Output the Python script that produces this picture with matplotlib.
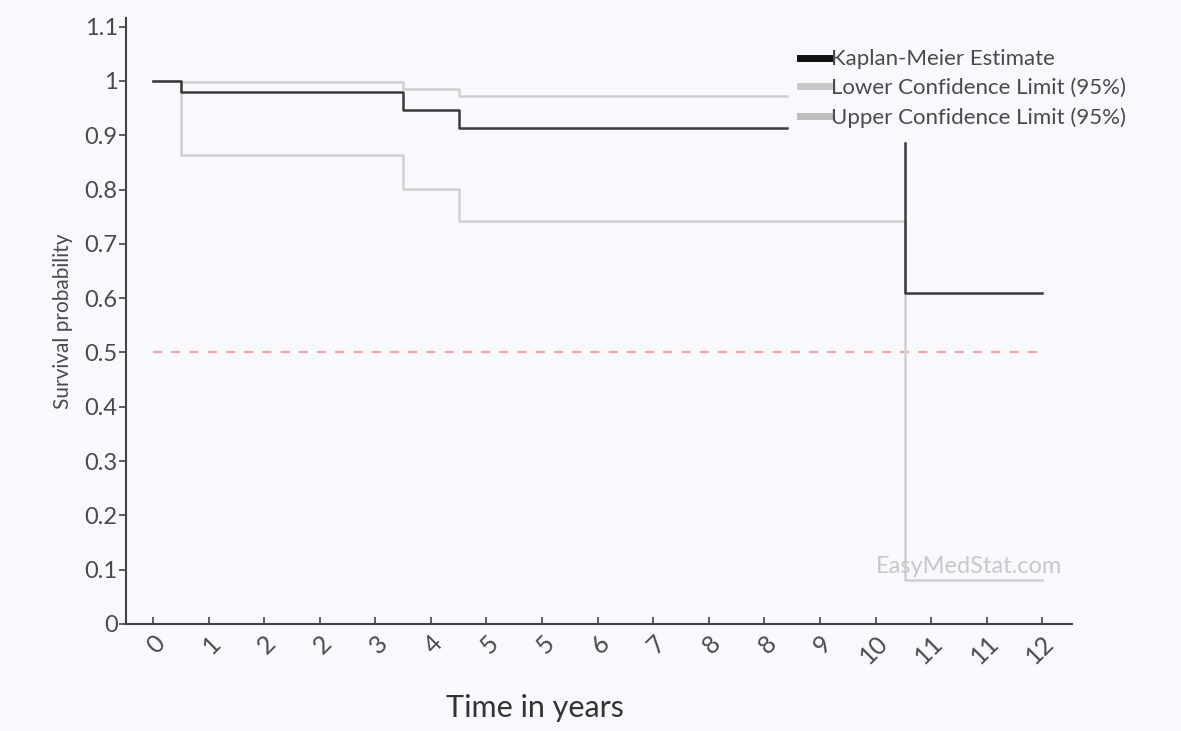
import numpy as np
import matplotlib
matplotlib.use("Agg")
import matplotlib.pyplot as plt
from matplotlib.lines import Line2D

nan = np.nan
# Kaplan-Meier step data (time in years, survival)
km_time = [0, 0.38, 3.37, 4.13, 8.56, 10.15, 10.15, 12]
km_surv = [1.0, 0.98, 0.947, 0.913, nan, 0.886, 0.609, 0.609]
lower_time = [0, 0.38, 3.37, 4.13, 10.15, 12]
lower_surv = [1.0, 0.864, 0.801, 0.743, 0.081, 0.081]
upper_time = [0, 0.38, 3.37, 4.13, 8.56]
upper_surv = [1.0, 0.998, 0.986, 0.972, 0.972]

xtick_vals = [0, 0.75, 1.5, 2.25, 3, 3.75, 4.5, 5.25, 6, 6.75, 7.5, 8.25, 9, 9.75, 10.5, 11.25, 12]
xtick_labels = ["0", "1", "2", "2", "3", "4", "5", "5", "6", "7", "8", "8", "9", "10", "11", "11", "12"]
ytick_vals = [0, 0.1, 0.2, 0.3, 0.4, 0.5, 0.6, 0.7, 0.8, 0.9, 1.0, 1.1]
ytick_labels = ["0", "0.1", "0.2", "0.3", "0.4", "0.5", "0.6", "0.7", "0.8", "0.9", "1", "1.1"]
median_line = 0.5

plt.rcParams['font.family'] = ['Lato', 'DejaVu Sans']
bg = '#f8f9fd'
fig = plt.figure(figsize=(11.81, 7.31), dpi=100, facecolor=bg)
ax = fig.add_axes([0.1067, 0.1464, 0.8010, 0.829])
ax.set_facecolor(bg)

txtc = '#4a4a4a'
ax.plot([xtick_vals[0], xtick_vals[-1]], [median_line, median_line], color='#f4a4a4',
        lw=1.6, ls=(0, (4.1, 4.1)), zorder=1)
ax.step(lower_time, lower_surv, where='post', color='#cfcfcf', lw=1.8, zorder=2)
ax.step(upper_time, upper_surv, where='post', color='#cfcfcf', lw=1.8, zorder=2)
ax.step(km_time, km_surv, where='post', color='#3a3a3a', lw=1.8, zorder=3)

ax.set_xlim(-0.364, 12.4)
ax.set_ylim(0, 1.116)
ax.set_xticks(xtick_vals)
ax.set_xticklabels(xtick_labels, rotation=45, ha='right', va='top', rotation_mode='anchor')
ax.set_yticks(ytick_vals)
ax.set_yticklabels(ytick_labels)
ax.tick_params(axis='x', direction='in', length=5, width=1.2, color='#444', labelsize=18,
               labelcolor=txtc, pad=5)
ax.tick_params(axis='y', direction='out', length=5, width=1.2, color='#444', labelsize=17,
               labelcolor=txtc, pad=1)
for s in ['top', 'right']:
    ax.spines[s].set_visible(False)
for s in ['left', 'bottom']:
    ax.spines[s].set_color('#444')
    ax.spines[s].set_linewidth(1.5)

ax.set_ylabel('Survival probability', fontsize=15, color=txtc, labelpad=8)
fig.text(0.453, 0.032, 'Time in years', fontsize=22, color='#333', ha='center', va='center')

ax.text(12.27, 0.105, 'EasyMedStat.com', fontsize=17, color='#c8c8c8', ha='right', va='center')

handles = [Line2D([], [], color='#111111', lw=5),
           Line2D([], [], color='#c8c8c8', lw=5),
           Line2D([], [], color='#bdbdbd', lw=5)]
labels = ['Kaplan-Meier Estimate', 'Lower Confidence Limit (95%)', 'Upper Confidence Limit (95%)']
leg = ax.legend(handles, labels, loc='upper left', bbox_to_anchor=(0.703, 0.963), frameon=False,
                fontsize=16, handlelength=1.3, handletextpad=0.1, labelspacing=0.4,
                borderaxespad=0)
for t in leg.get_texts():
    t.set_color(txtc)

fig.savefig('out.png', dpi=100, facecolor=bg)
